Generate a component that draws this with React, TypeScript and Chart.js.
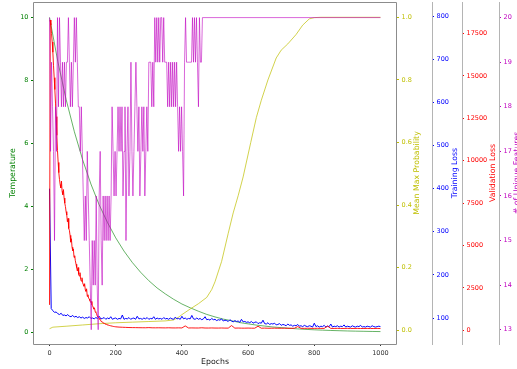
import React, { useEffect, useRef } from "react";
import { Chart, registerables } from "chart.js";

Chart.register(...registerables);

// ---------- ticks ----------
const epochTicks = [0, 200, 400, 600, 800, 1000];
const temperatureTicks = [0, 2, 4, 6, 8, 10];
const probabilityTicks = [0, 0.2, 0.4, 0.6, 0.8, 1.0];
const trainingLossTicks = [100, 200, 300, 400, 500, 600, 700, 800];
const validationLossTicks = [0, 2500, 5000, 7500, 10000, 12500, 15000, 17500];
const featureTicks = [13, 14, 15, 16, 17, 18, 19, 20];

// ---------- temperature (every 25 epochs) ----------
const temperatureEpochStep = 25;
const temperatureValues = [
  10.0, 8.6, 7.4, 6.37, 5.48, 4.71, 4.05, 3.49, 3.0, 2.58,
  2.22, 1.91, 1.64, 1.41, 1.22, 1.05, 0.9, 0.78, 0.67, 0.57,
  0.49, 0.42, 0.37, 0.31, 0.27, 0.23, 0.2, 0.17, 0.15, 0.13,
  0.11, 0.094, 0.081, 0.07, 0.06, 0.052, 0.044, 0.038, 0.033, 0.028,
  0.024,
];

// ---------- mean max probability ----------
const probabilityEpochs = [
  0, 10, 50, 100, 150, 200, 250, 300, 350, 375, 390, 400, 425, 450, 475, 490, 500,
  520, 540, 555, 570, 585, 608, 625, 640, 660, 685, 700, 720, 745, 765, 785, 800, 820, 1000,
];
const probabilityValues = [
  0.005, 0.01, 0.013, 0.017, 0.021, 0.024, 0.026, 0.028, 0.03, 0.033, 0.042, 0.05, 0.068,
  0.085, 0.105, 0.13, 0.155, 0.22, 0.31, 0.375, 0.43, 0.49, 0.6, 0.68, 0.735, 0.8, 0.87,
  0.895, 0.915, 0.945, 0.975, 0.995, 0.999, 1.0, 1.0,
];

// ---------- training loss (every 5 epochs) ----------
const trainingLossEpochStep = 5;
const trainingLossValues = [
  400, 122, 117, 113, 114, 110, 108, 111, 106, 107,
  105, 108, 104, 103, 106, 102, 104, 101, 103, 100,
  102, 99, 101, 100, 103, 99, 100, 98, 101, 99,
  104, 98, 99, 101, 97, 100, 98, 103, 97, 99,
  100, 97, 99, 98, 107, 97, 99, 98, 101, 97,
  99, 100, 97, 104, 98, 99, 97, 100, 98, 101,
  97, 99, 98, 103, 97, 100, 98, 99, 97, 101,
  98, 99, 97, 100, 98, 97, 102, 98, 99, 97,
  104, 98, 100, 97, 99, 98, 106, 98, 97, 100,
  97, 99, 96, 98, 103, 96, 97, 95, 99, 96,
  97, 94, 96, 95, 98, 93, 95, 94, 92, 96,
  93, 91, 94, 92, 93, 90, 97, 91, 92, 90,
  91, 89, 92, 88, 90, 91, 87, 89, 88, 95,
  87, 86, 89, 85, 87, 86, 88, 84, 85, 87,
  83, 85, 84, 82, 86, 83, 84, 81, 83, 82,
  85, 81, 82, 80, 83, 81, 80, 82, 81, 79,
  88, 80, 82, 79, 81, 80, 83, 79, 81, 80,
  86, 79, 81, 80, 82, 79, 81, 80, 84, 79,
  81, 80, 79, 82, 80, 79, 81, 80, 83, 79,
  80, 79, 81, 80, 79, 82, 80, 79, 80, 81,
  80,
];

// ---------- validation loss ----------
const validationLossHeadStep = 2; // epochs 0..200
const validationLossHeadValues = [
  1500, 18300, 18000, 17500, 17000, 16400, 15600, 14900, 14200, 13400,
  12600, 11500, 10600, 9900, 9300, 8900, 8600, 8400, 8800, 8200,
  8000, 8300, 7800, 7500, 7300, 7000, 6800, 6400, 6600, 6000,
  5900, 5600, 5200, 5400, 4900, 4700, 4800, 4300, 4400, 4100,
  3900, 3700, 3500, 3700, 3300, 3200, 3400, 3000, 2900, 3100,
  2800, 2700, 2600, 2750, 2400, 2300, 2450, 2000, 2100, 1900,
  1850, 1750, 1650, 1700, 1500, 1450, 1350, 1250, 1300, 1100,
  1050, 980, 850, 800, 750, 700, 650, 600, 520, 500,
  470, 440, 420, 400, 380, 360, 345, 330, 310, 300,
  290, 280, 270, 260, 250, 240, 232, 225, 218, 212,
  205,
];
const validationLossTailStart = 210; // epochs 210..1000
const validationLossTailStep = 10;
const validationLossTailValues = [
  190, 180, 172, 165, 160, 158, 155, 152, 150, 160,
  148, 146, 150, 145, 143, 150, 142, 140, 145, 139,
  260, 138, 142, 137, 136, 150, 135, 134, 140, 133,
  132, 137, 131, 130, 280, 129, 134, 128, 127, 132,
  126, 125, 240, 124, 130, 123, 122, 127, 121, 120,
  125, 119, 118, 123, 220, 117, 116, 121, 115, 114,
  119, 113, 112, 250, 112, 111, 116, 110, 110, 115,
  109, 109, 113, 108, 108, 112, 107, 107, 111, 106,
];

// ---------- unique features (every 3 epochs, then constant) ----------
const featureEpochStep = 3;
const featureValues = [
  20, 17, 19, 18, 17, 15, 18, 17, 20, 18,
  20, 19, 18, 19, 18, 19, 18, 19, 19, 20,
  19, 18, 19, 18, 19, 20, 19, 20, 19, 18,
  18, 17, 18, 17, 16, 15, 16, 15, 17, 16,
  15, 14, 13, 15, 14, 15, 14, 16, 14, 13,
  16, 17, 15, 14, 16, 15, 16, 15, 16, 15,
  16, 15, 16, 18, 17, 16, 17, 16, 17, 18,
  17, 18, 17, 18, 16, 17, 18, 15, 17, 18,
  16, 17, 19, 17, 16, 17, 18, 19, 18, 17,
  18, 16, 17, 18, 17, 18, 16, 17, 18, 17,
  19, 19, 19, 18, 19, 18, 20, 19, 20, 19,
  20, 19, 20, 20, 19, 20, 19, 19, 19, 18,
  19, 18, 19, 18, 19, 18, 19, 18, 19, 18,
  17, 18, 17, 18, 17, 16, 19, 20, 19, 19,
  19, 19, 19, 19, 20, 19, 20, 19, 20, 19,
  18, 20, 19, 19, 20,
];
const featureEndEpoch = 1000;
const featureEndValue = 20;

// ---------- styles ----------
const GREEN = "#008000";
const YELLOW = "#bfbf00";
const BLUE = "#0000ff";
const RED = "#ff0000";
const MAGENTA = "#bf00bf";
const FONT = "'DejaVu Sans', sans-serif";
const TICK_SIZE = 6.5;
const TITLE_SIZE = 7.8;

type Pt = { x: number; y: number };

function stepSeries(values: number[], step: number, start = 0): Pt[] {
  return values.map((v, i) => ({ x: start + i * step, y: v }));
}

function sideAxis(
  position: "left" | "right",
  weight: number,
  width: number,
  min: number,
  max: number,
  ticks: number[],
  color: string,
  fmt: (v: number) => string,
  showBorder: boolean
) {
  return {
    type: "linear" as const,
    position,
    weight,
    min,
    max,
    afterFit: (s: any) => {
      s.width = width;
      s.paddingTop = 0;
      s.paddingBottom = 0;
    },
    afterBuildTicks: (s: any) => {
      s.ticks = ticks.map((v) => ({ value: v }));
    },
    grid: {
      display: true,
      drawOnChartArea: false,
      drawTicks: true,
      tickLength: 2,
      color,
      lineWidth: 1,
    },
    border: { display: showBorder, color: "#b4b4b4", width: 1 },
    ticks: {
      color,
      font: { family: FONT, size: TICK_SIZE },
      padding: 2.5,
      autoSkip: false,
      maxRotation: 0,
      callback: (v: any) => fmt(Number(v)),
    },
    title: { display: false },
  };
}

const decorPlugin = {
  id: "decor",
  afterDraw(chart: any) {
    const { ctx, chartArea: a, scales } = chart;
    ctx.save();
    // main frame
    ctx.strokeStyle = "#8c8c8c";
    ctx.lineWidth = 1;
    ctx.beginPath();
    ctx.moveTo(a.left + 0.5, a.top + 0.5);
    ctx.lineTo(a.right - 0.5, a.top + 0.5);
    ctx.lineTo(a.right - 0.5, a.bottom + 0.5);
    ctx.lineTo(a.left + 0.5, a.bottom + 0.5);
    ctx.closePath();
    ctx.stroke();

    const cy = (a.top + a.bottom) / 2;
    const vtext = (text: string, x: number, color: string) => {
      ctx.save();
      ctx.translate(x, cy);
      ctx.rotate(-Math.PI / 2);
      ctx.fillStyle = color;
      ctx.font = `${TITLE_SIZE}px ${FONT}`;
      ctx.textAlign = "center";
      ctx.textBaseline = "middle";
      ctx.fillText(text, 0, 0);
      ctx.restore();
    };
    vtext("Temperature", scales.temp.left + 13, GREEN);
    vtext("Mean Max Probability", scales.prob.left + 20, YELLOW);
    vtext("Training Loss", scales.train.left + 23, BLUE);
    vtext("Validation Loss", scales.val.left + 31, RED);
    vtext("# of Unique Features", scales.feat.left + 18, MAGENTA);

    ctx.fillStyle = "#222";
    ctx.font = `${TITLE_SIZE}px ${FONT}`;
    ctx.textAlign = "center";
    ctx.textBaseline = "middle";
    ctx.fillText("Epochs", (a.left + a.right) / 2, scales.x.bottom - 7.5);
    ctx.restore();
  },
};

export default function App() {
  const ref = useRef<HTMLCanvasElement | null>(null);

  useEffect(() => {
    if (!ref.current) return;

    const temperatureData = stepSeries(temperatureValues, temperatureEpochStep);
    const probabilityData = probabilityEpochs.map((e, i) => ({ x: e, y: probabilityValues[i] }));
    const trainingData = stepSeries(trainingLossValues, trainingLossEpochStep);
    const validationData = [
      ...stepSeries(validationLossHeadValues, validationLossHeadStep),
      ...stepSeries(validationLossTailValues, validationLossTailStep, validationLossTailStart),
    ];
    const featureData = [
      ...stepSeries(featureValues, featureEpochStep),
      { x: featureEndEpoch, y: featureEndValue },
    ];

    const common = { pointRadius: 0, borderWidth: 1, tension: 0, fill: false, xAxisID: "x" };

    const chart = new Chart(ref.current, {
      type: "line",
      data: {
        datasets: [
          { ...common, label: "Temperature", data: temperatureData, yAxisID: "temp", borderColor: "rgba(0,128,0,0.6)", order: 5 },
          { ...common, label: "Mean Max Probability", data: probabilityData, yAxisID: "prob", borderColor: "rgba(191,191,0,0.7)", order: 4 },
          { ...common, label: "Training Loss", data: trainingData, yAxisID: "train", borderColor: BLUE, order: 3 },
          { ...common, label: "Validation Loss", data: validationData, yAxisID: "val", borderColor: "rgba(255,0,0,0.9)", order: 2 },
          { ...common, label: "# of Unique Features", data: featureData, yAxisID: "feat", borderColor: "rgba(191,0,191,0.6)", order: 1 },
        ] as any,
      },
      options: {
        responsive: false,
        maintainAspectRatio: false,
        devicePixelRatio: 1,
        animation: false,
        events: [],
        layout: { padding: { top: 2, left: 0, right: 0, bottom: 0 } },
        plugins: { legend: { display: false }, tooltip: { enabled: false } },
        scales: {
          x: {
            type: "linear",
            position: "bottom",
            min: -50,
            max: 1050,
            afterFit: (s: any) => {
              s.height = 25;
              s.paddingLeft = 0;
              s.paddingRight = 0;
            },
            afterBuildTicks: (s: any) => {
              s.ticks = epochTicks.map((v) => ({ value: v }));
            },
            grid: { display: true, drawOnChartArea: false, tickLength: 2, color: "#333" },
            border: { display: false },
            ticks: {
              color: "#333",
              font: { family: FONT, size: TICK_SIZE },
              padding: 3,
              autoSkip: false,
              maxRotation: 0,
              callback: (v: any) => String(v),
            },
          },
          temp: sideAxis("left", 1, 33, -0.37, 10.49, temperatureTicks, GREEN, (v) => String(v), false),
          prob: sideAxis("right", 1, 35, -0.0438, 1.0489, probabilityTicks, YELLOW, (v) => v.toFixed(1), false),
          train: sideAxis("right", 2, 30, 39.7, 833, trainingLossTicks, BLUE, (v) => String(v), true),
          val: sideAxis("right", 3, 37, -807, 19362, validationLossTicks, RED, (v) => String(v), true),
          feat: sideAxis("right", 4, 18, 12.68, 20.35, featureTicks, MAGENTA, (v) => String(v), true),
        } as any,
      },
      plugins: [decorPlugin],
    });

    return () => chart.destroy();
  }, []);

  return (
    <div style={{ position: "fixed", left: 0, top: 0, width: 517, height: 369, background: "#fff" }}>
      <canvas ref={ref} width={517} height={369} style={{ display: "block", width: 517, height: 369 }} />
    </div>
  );
}
